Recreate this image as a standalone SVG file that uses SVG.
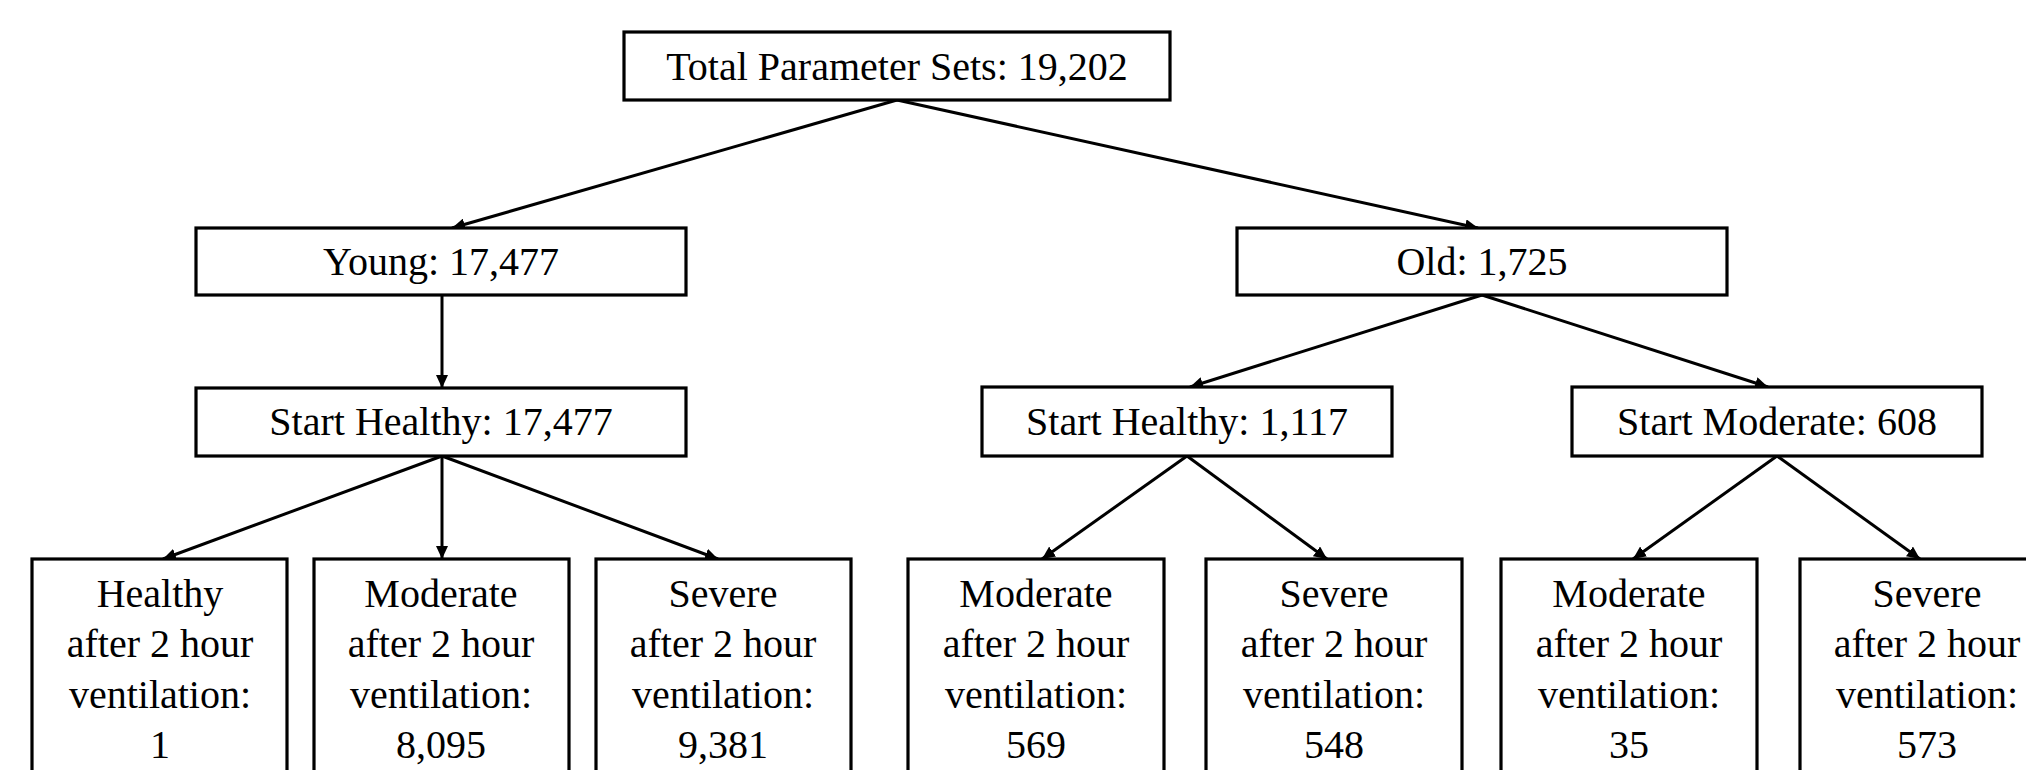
<svg xmlns="http://www.w3.org/2000/svg" width="2026" height="770" viewBox="0 0 2026 770">
<style>
.box{fill:#fff;stroke:#000;stroke-width:3.2}
.t{font-family:"Liberation Serif","Times New Roman",serif;font-size:40px;fill:#000;text-anchor:middle}
.c{stroke:#000;stroke-width:3;fill:none;marker-end:url(#ah)}
</style>
<defs>
<marker id="ah" markerUnits="userSpaceOnUse" markerWidth="14" markerHeight="12" refX="13" refY="6" orient="auto">
<path d="M0,0 L13,6 L0,12 z" fill="#000"/>
</marker>
</defs>
<rect width="2026" height="770" fill="#fff"/>
<g id="connectors">
<line class="c" x1="897" y1="100" x2="452" y2="228"/>
<line class="c" x1="897" y1="100" x2="1478" y2="228"/>
<line class="c" x1="442" y1="295" x2="442" y2="388"/>
<line class="c" x1="1482" y1="295" x2="1190" y2="387"/>
<line class="c" x1="1482" y1="295" x2="1768" y2="387"/>
<line class="c" x1="442" y1="456" x2="163" y2="559"/>
<line class="c" x1="442" y1="456" x2="442" y2="559"/>
<line class="c" x1="442" y1="456" x2="718" y2="559"/>
<line class="c" x1="1187" y1="456" x2="1042" y2="559"/>
<line class="c" x1="1187" y1="456" x2="1327" y2="559"/>
<line class="c" x1="1777" y1="456" x2="1633" y2="559"/>
<line class="c" x1="1777" y1="456" x2="1920" y2="559"/>
</g>
<g id="n-total"><rect class="box" x="624" y="32" width="546" height="68"/><text class="t" x="897" y="80">Total Parameter Sets: 19,202</text></g>
<g id="n-young"><rect class="box" x="196" y="228" width="490" height="67"/><text class="t" x="441" y="275">Young: 17,477</text></g>
<g id="n-old"><rect class="box" x="1237" y="228" width="490" height="67"/><text class="t" x="1482" y="275">Old: 1,725</text></g>
<g id="n-young-healthy"><rect class="box" x="196" y="388" width="490" height="68"/><text class="t" x="441" y="435">Start Healthy: 17,477</text></g>
<g id="n-old-healthy"><rect class="box" x="982" y="387" width="410" height="69"/><text class="t" x="1187" y="435">Start Healthy: 1,117</text></g>
<g id="n-old-moderate"><rect class="box" x="1572" y="387" width="410" height="69"/><text class="t" x="1777" y="435">Start Moderate: 608</text></g>
<g id="n-y-healthy"><rect class="box" x="32" y="559" width="255" height="230"/><text class="t" x="160" y="607">Healthy</text><text class="t" x="160" y="657">after 2 hour</text><text class="t" x="160" y="708">ventilation:</text><text class="t" x="160" y="758">1</text></g>
<g id="n-y-moderate"><rect class="box" x="314" y="559" width="255" height="230"/><text class="t" x="441" y="607">Moderate</text><text class="t" x="441" y="657">after 2 hour</text><text class="t" x="441" y="708">ventilation:</text><text class="t" x="441" y="758">8,095</text></g>
<g id="n-y-severe"><rect class="box" x="596" y="559" width="255" height="230"/><text class="t" x="723" y="607">Severe</text><text class="t" x="723" y="657">after 2 hour</text><text class="t" x="723" y="708">ventilation:</text><text class="t" x="723" y="758">9,381</text></g>
<g id="n-oh-moderate"><rect class="box" x="908" y="559" width="256" height="230"/><text class="t" x="1036" y="607">Moderate</text><text class="t" x="1036" y="657">after 2 hour</text><text class="t" x="1036" y="708">ventilation:</text><text class="t" x="1036" y="758">569</text></g>
<g id="n-oh-severe"><rect class="box" x="1206" y="559" width="256" height="230"/><text class="t" x="1334" y="607">Severe</text><text class="t" x="1334" y="657">after 2 hour</text><text class="t" x="1334" y="708">ventilation:</text><text class="t" x="1334" y="758">548</text></g>
<g id="n-om-moderate"><rect class="box" x="1501" y="559" width="256" height="230"/><text class="t" x="1629" y="607">Moderate</text><text class="t" x="1629" y="657">after 2 hour</text><text class="t" x="1629" y="708">ventilation:</text><text class="t" x="1629" y="758">35</text></g>
<g id="n-om-severe"><rect class="box" x="1800" y="559" width="256" height="230"/><text class="t" x="1927" y="607">Severe</text><text class="t" x="1927" y="657">after 2 hour</text><text class="t" x="1927" y="708">ventilation:</text><text class="t" x="1927" y="758">573</text></g>
</svg>
